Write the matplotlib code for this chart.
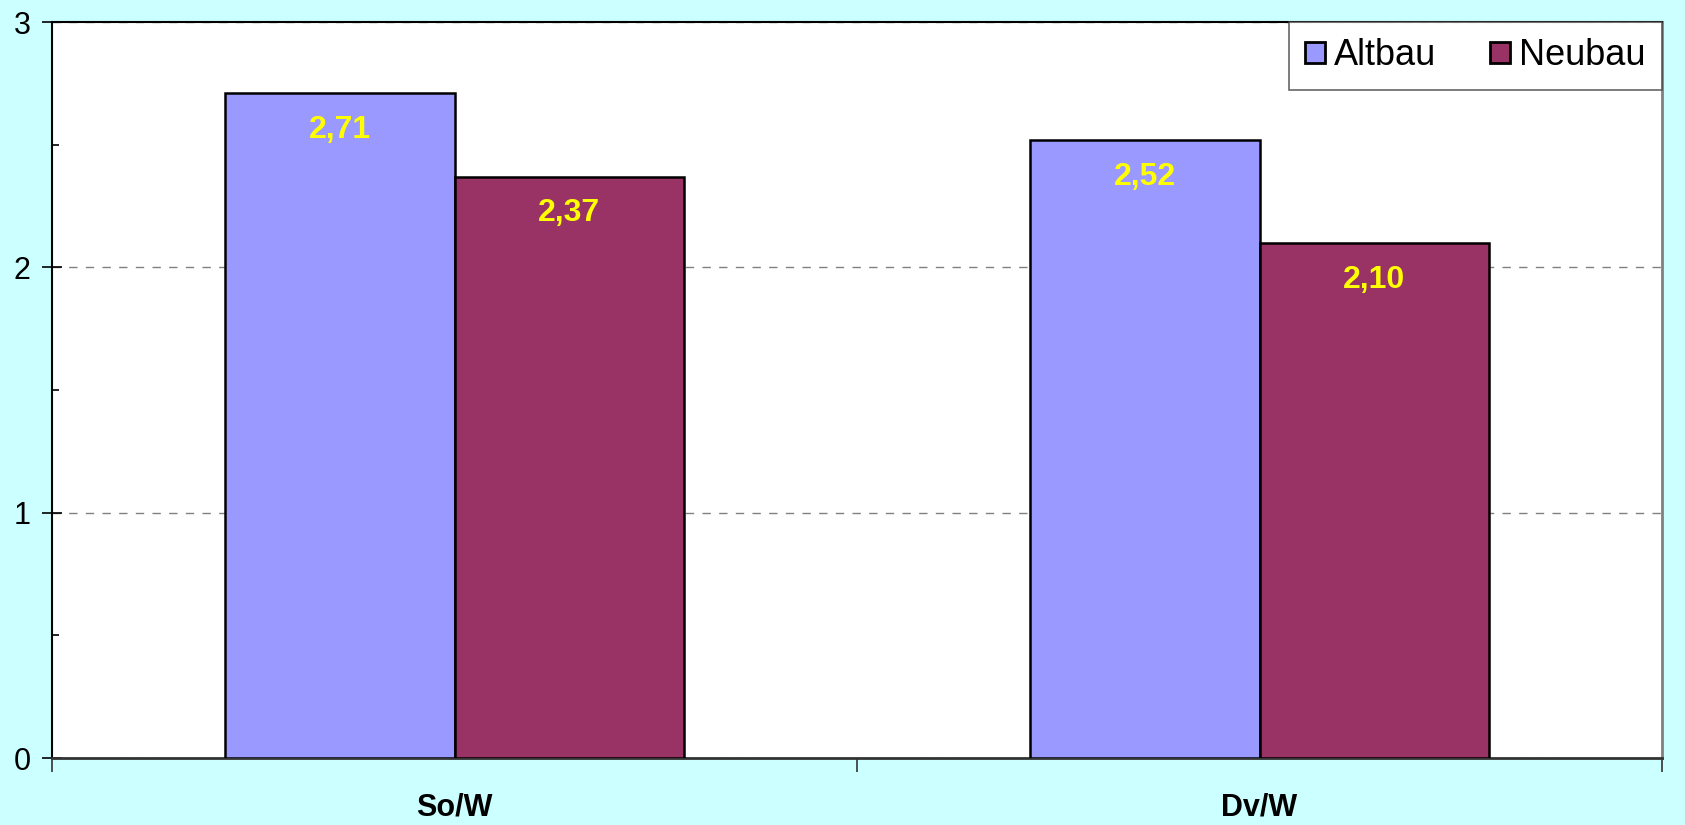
import numpy as np
import matplotlib
matplotlib.use('Agg')
import matplotlib.pyplot as plt
from matplotlib.ticker import MultipleLocator

plt.rcParams['font.family'] = ['Liberation Sans', 'DejaVu Sans']

categories = ['So/W', 'Dv/W']
series_names = ['Altbau', 'Neubau']
altbau = [2.71, 2.52]
neubau = [2.37, 2.10]
colors = ['#9999FF', '#993366']

fig = plt.figure(figsize=(16.85, 8.25), dpi=100)
fig.patch.set_facecolor('#CCFFFF')
ax = fig.add_axes([52 / 1685, 67 / 825, 1610 / 1685, 736 / 825])
ax.set_facecolor('white')

x = np.arange(len(categories))
w = 0.285
b1 = ax.bar(x - w / 2, altbau, w, color=colors[0], edgecolor='black',
            linewidth=1.8, label=series_names[0], zorder=3)
b2 = ax.bar(x + w / 2, neubau, w, color=colors[1], edgecolor='black',
            linewidth=1.8, label=series_names[1], zorder=3)

# value labels in yellow, inside the top of each bar
for bars, vals in [(b1, altbau), (b2, neubau)]:
    for rect, v in zip(bars, vals):
        ax.annotate(f'{v:.2f}'.replace('.', ','),
                    (rect.get_x() + rect.get_width() / 2, v),
                    xytext=(0, -26.5), textcoords='offset points',
                    ha='center', va='center', color='#FFFF00',
                    fontsize=23, fontweight='bold', zorder=4)

ax.set_xlim(-0.5, 1.5)
ax.set_ylim(0, 3)

# y axis
ax.yaxis.set_major_locator(MultipleLocator(1))
ax.yaxis.set_minor_locator(MultipleLocator(0.5))
ax.tick_params(axis='y', which='major', direction='inout', length=15,
               width=1.2, labelsize=22, pad=8)
ax.tick_params(axis='y', which='minor', direction='in', length=5, width=1.2)
ax.yaxis.grid(True, which='major', linestyle=(0, (6, 6)), color='#808080',
              linewidth=1, zorder=0)

# x axis: tick marks between categories, labels at the centres
ax.set_xticks([-0.5, 0.5, 1.5])
ax.set_xticklabels([])
ax.set_xticks(x, minor=True)
ax.set_xticklabels(categories, minor=True, fontsize=22, fontweight='bold')
ax.tick_params(axis='x', which='major', direction='out', length=10,
               width=1.2, color='#333333')
ax.tick_params(axis='x', which='minor', length=0, pad=25)

for side in ['left', 'top']:
    ax.spines[side].set_color('black')
    ax.spines[side].set_linewidth(1.5)
ax.spines['bottom'].set_color('#333333')
ax.spines['bottom'].set_linewidth(2)
ax.spines['right'].set_color('#808080')
ax.spines['right'].set_linewidth(2)

leg = ax.legend(loc='upper right', ncol=2, fontsize=26, frameon=True,
                fancybox=False, borderaxespad=0, handlelength=0.55,
                handleheight=0.55, handletextpad=0.25, columnspacing=1.5,
                borderpad=0.45)
leg.get_frame().set_edgecolor('#404040')
leg.get_frame().set_linewidth(1.2)
for h in leg.legend_handles:
    h.set_linewidth(2)

fig.savefig('out.png', dpi=100, facecolor=fig.get_facecolor())
